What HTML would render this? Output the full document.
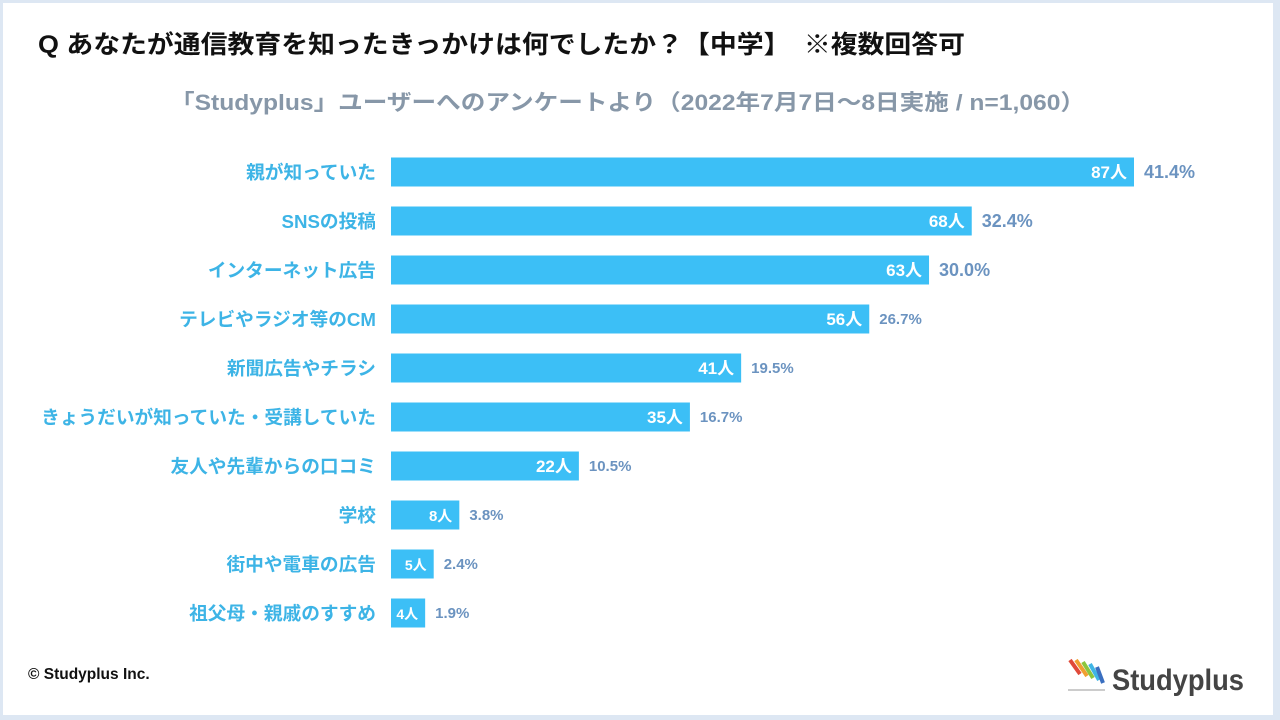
<!DOCTYPE html>
<html><head><meta charset="utf-8">
<style>
html,body{margin:0;padding:0}
body{width:1280px;height:720px;background:#dde7f3;position:relative;overflow:hidden;font-family:"Liberation Sans","Noto Sans CJK JP",sans-serif}
#card{position:absolute;left:3px;top:3px;width:1270px;height:712px;background:#fff}
</style></head>
<body>
<div id="card"></div>
<svg id="chart" width="1280" height="720" style="position:absolute;left:0;top:0">
<text x="38" y="53" font-size="25" font-weight="bold" fill="#111" textLength="927" lengthAdjust="spacingAndGlyphs" font-family="Liberation Sans, Noto Sans CJK JP, sans-serif">Q あなたが通信教育を知ったきっかけは何でしたか？【中学】　※複数回答可</text>
<text x="170" y="110" font-size="22" font-weight="bold" fill="#8797a8" textLength="915" lengthAdjust="spacingAndGlyphs" font-family="Liberation Sans, Noto Sans CJK JP, sans-serif">「Studyplus」ユーザーへのアンケートより（2022年7月7日〜8日実施 / n=1,060）</text>
<text x="28" y="679" font-size="15.5" font-weight="bold" fill="#111" font-family="Liberation Sans, sans-serif">© Studyplus Inc.</text>
<g>
<line x1="1070" y1="660" x2="1080" y2="674" stroke="#e04a3a" stroke-width="4"/>
<line x1="1076" y1="660" x2="1087" y2="676" stroke="#f0a030" stroke-width="4"/>
<line x1="1083" y1="662" x2="1093" y2="678" stroke="#8cc63e" stroke-width="4"/>
<line x1="1090" y1="664" x2="1099" y2="680" stroke="#3fb5e5" stroke-width="4"/>
<line x1="1097" y1="667" x2="1103" y2="683" stroke="#3a6fc0" stroke-width="4"/>
<line x1="1068" y1="690" x2="1105" y2="690" stroke="#ccc" stroke-width="2"/>
<text x="1112" y="690" font-size="30" font-weight="bold" fill="#444" textLength="132" lengthAdjust="spacingAndGlyphs" font-family="Liberation Sans, sans-serif">Studyplus</text>
</g>
</svg>
<script>
const categories=["親が知っていた","SNSの投稿","インターネット広告","テレビやラジオ等のCM","新聞広告やチラシ","きょうだいが知っていた・受講していた","友人や先輩からの口コミ","学校","街中や電車の広告","祖父母・親戚のすすめ"];
const counts=[87,68,63,56,41,35,22,8,5,4];
const percents=["41.4%","32.4%","30.0%","26.7%","19.5%","16.7%","10.5%","3.8%","2.4%","1.9%"];
const svg=document.getElementById('chart');
const NS='http://www.w3.org/2000/svg';
const x0=391, pxPer=(1134-391)/87, y0=172, step=49, bh=29;
const xs=v=>x0+v*pxPer;
const yc=i=>y0+i*step;
function mk(tag,attrs,txt){const e=document.createElementNS(NS,tag);for(const k in attrs)e.setAttribute(k,attrs[k]);if(txt!==undefined)e.textContent=txt;svg.appendChild(e);return e;}
const ff='Liberation Sans, Noto Sans CJK JP, sans-serif';
categories.forEach((c,i)=>{
  const y=yc(i), big=i<3, mid=i<7;
  const lab=mk('text',{x:376,y:y+7,'text-anchor':'end','font-size':18.7,'font-weight':'bold',fill:'#3db4e6','font-family':ff},c);
  
  
  const r=mk('rect',{x:x0,y:y-bh/2,width:xs(counts[i])-x0,height:bh,fill:'#3cbff6'});
  
  
  const vf=mid?17:(i==7?15:14);
  const v=mk('text',{x:xs(counts[i])-7,y:y+6,'text-anchor':'end','font-size':vf,'font-weight':'bold',fill:'#fff','font-family':ff},counts[i]+'人');
  
  
  const p=mk('text',{x:xs(counts[i])+10,y:y+(big?6:5),'font-size':big?18:15,'font-weight':'bold',fill:'#6b93c0','font-family':ff},percents[i]);
  
  
});
</script>
</body></html>
